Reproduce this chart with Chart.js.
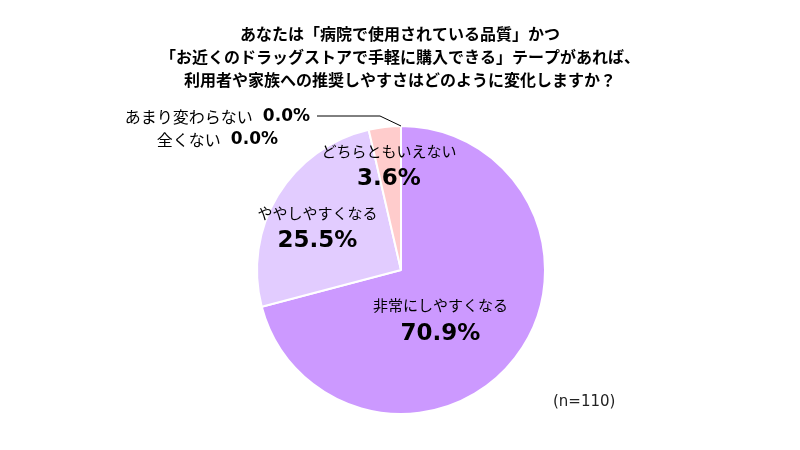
<!DOCTYPE html>
<html>
<head>
<meta charset="utf-8">
<script src="https://cdn.jsdelivr.net/npm/chart.js@4"></script>
<style>
  body { margin: 0; background: #fff; }
</style>
</head>
<body>
<canvas id="pie_chart" width="800" height="450"></canvas>
<script>
// chart data
const title_lines = [
  "あなたは「病院で使用されている品質」かつ",
  "「お近くのドラッグストアで手軽に購入できる」テープがあれば、",
  "利用者や家族への推奨しやすさはどのように変化しますか？"
];
const answer_labels = ["非常にしやすくなる", "ややしやすくなる", "どちらともいえない", "あまり変わらない", "全くない"];
const answer_values = [70.9, 25.5, 3.6, 0.0, 0.0];
const sample_note = "(n=110)";

const slice_colors = ["#CC99FF", "#E2CCFF", "#FFCCCC", "#CCCCCC", "#999999"];
const jp_font = "'Noto Sans CJK JP', 'Noto Sans', sans-serif";
const num_font = "'DejaVu Sans', Verdana, sans-serif";

// where each inside label sits: fraction of radius, and turn off the mid angle
const label_dist = [0.435, 0.654, 0.74];
const label_turn = [0.234, -0.063, 0];

const labelPlugin = {
  id: 'pieLabels',
  afterDraw(chart) {
    const ctx = chart.ctx;
    const meta = chart.getDatasetMeta(0);
    ctx.save();

    // title
    ctx.fillStyle = '#000';
    ctx.textAlign = 'center';
    ctx.textBaseline = 'middle';
    ctx.font = 'bold 16px ' + jp_font;
    title_lines.forEach((line, i) => ctx.fillText(line, 400, 34 + i * 23));

    // labels inside the slices
    meta.data.forEach((arc, i) => {
      const value = answer_values[i];
      if (value <= 0) return;
      const mid = (arc.startAngle + arc.endAngle) / 2 + label_turn[i];
      const r = arc.outerRadius * label_dist[i];
      const x = arc.x + Math.cos(mid) * r;
      const y = arc.y + Math.sin(mid) * r;
      ctx.fillStyle = '#000';
      ctx.font = '15px ' + jp_font;
      ctx.fillText(answer_labels[i], x, y - 13);
      ctx.font = 'bold 23px ' + num_font;
      ctx.fillText(value.toFixed(1) + '%', x, y + 15);
    });

    // zero slices: leader line from the top of the pie
    const top = meta.data[0];
    const tx = top.x;
    const ty = top.y - top.outerRadius;
    ctx.strokeStyle = '#000';
    ctx.lineWidth = 1;
    ctx.beginPath();
    ctx.moveTo(tx, ty);
    ctx.lineTo(tx - 21, ty - 10);
    ctx.lineTo(tx - 84, ty - 10);
    ctx.stroke();

    ctx.textAlign = 'right';
    const zero_rows = [[3, tx - 91, ty - 9], [4, tx - 123, ty + 14]];
    zero_rows.forEach(([i, x, y]) => {
      const pct = answer_values[i].toFixed(1) + '%';
      ctx.font = 'bold 17px ' + num_font;
      ctx.fillText(pct, x, y);
      const w = ctx.measureText(pct).width;
      ctx.font = '16px ' + jp_font;
      ctx.fillText(answer_labels[i], x - w - 10, y);
    });

    // sample size
    ctx.textAlign = 'left';
    ctx.font = '15px ' + num_font;
    ctx.fillStyle = '#222';
    ctx.fillText(sample_note, 553, 402);
    ctx.restore();
  }
};

const ctx = document.getElementById('pie_chart').getContext('2d');
const chart = new Chart(ctx, {
  type: 'pie',
  data: {
    labels: answer_labels,
    datasets: [{
      data: answer_values,
      backgroundColor: slice_colors,
      borderColor: '#fff',
      borderWidth: 2
    }]
  },
  options: {
    responsive: false,
    animation: false,
    devicePixelRatio: 1,
    layout: { padding: { top: 125, bottom: 35, left: 2, right: 0 } },
    plugins: {
      legend: { display: false },
      tooltip: { enabled: false }
    }
  },
  plugins: [labelPlugin]
});
</script>
</body>
</html>
